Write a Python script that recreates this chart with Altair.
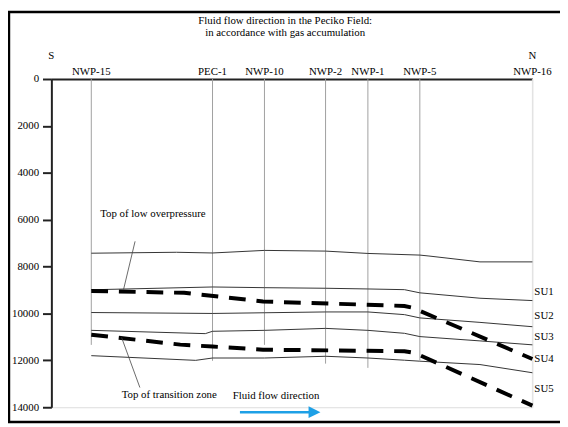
import altair as alt
import pandas as pd

# ---------------- data ----------------
wells = ["NWP-15", "PEC-1", "NWP-10", "NWP-2", "NWP-1", "NWP-5", "NWP-16"]
well_dist = [8.3, 33.5, 44.3, 57.0, 65.8, 76.6, 100.0]
well_bottom = [11340, 12020, 11340, 12140, 12320, 12000, 14000]

# solid horizons (distance, depth in ft)
h1_dist = [8.3, 26.0, 33.5, 44.3, 57.0, 65.8, 76.6, 78.5, 89.1, 100.0]
h1_depth = [7430, 7390, 7420, 7310, 7340, 7440, 7510, 7550, 7800, 7800]
h2_dist = [8.3, 33.5, 44.3, 57.0, 65.8, 73.4, 76.6, 89.1, 100.0]
h2_depth = [8990, 8870, 8900, 8925, 8955, 8985, 9120, 9350, 9450]
h3_dist = [8.3, 33.5, 44.3, 57.0, 65.8, 73.4, 76.6, 89.1, 100.0]
h3_depth = [9960, 10000, 9970, 9935, 9935, 10050, 10190, 10380, 10565]
h4_dist = [8.3, 32.0, 33.5, 44.3, 57.0, 65.8, 73.4, 76.6, 89.1, 100.0]
h4_depth = [10720, 10860, 10760, 10720, 10636, 10720, 10846, 10986, 11170, 11338]
h5_dist = [8.3, 30.0, 33.5, 44.3, 57.0, 65.8, 73.4, 76.6, 89.1, 100.0]
h5_depth = [11800, 12000, 11900, 11900, 11826, 11900, 11994, 12036, 12179, 12528]

# dashed boundaries
low_op_dist = [8.3, 27.6, 34.8, 44.0, 59.0, 73.4, 75.0, 100.0]
low_op_depth = [9040, 9120, 9280, 9490, 9585, 9680, 9750, 11940]
trans_dist = [8.3, 26.8, 33.5, 44.0, 73.4, 75.5, 100.0]
trans_depth = [10905, 11330, 11410, 11545, 11610, 11680, 13930]

su_labels = ["SU1", "SU2", "SU3", "SU4", "SU5"]
su_depth = [9093, 10103, 11002, 11927, 13230]

notes = ["Top of low overpressure", "Top of transition zone", "Fluid flow direction"]
note_dist = [21.1, 24.5, 46.7]
note_depth = [5760, 13466, 13508]

leader_dist = [17.4, 18.4]
leader_depth = [6924, 13159]
leader_dist2 = [15.0, 14.6]
leader_depth2 = [8983, 11027]

arrow_dist = [39.2]
arrow_dist2 = [54.0]
arrow_head_dist = [54.7]
arrow_depth = [14210]

ends = ["S", "N"]
end_dist = [0.0, 100.0]

y_ticks = [0, 2000, 4000, 6000, 8000, 10000, 12000, 14000]
title_lines = ["Fluid flow direction in the Peciko Field:", "in accordance with gas accumulation"]
title_dist = [48.6]

# ---------------- tables ----------------
wells_df = pd.DataFrame({"well": wells, "dist": well_dist, "top": [0] * len(wells), "bottom": well_bottom})

rows = []
for name, d, z in [("H1", h1_dist, h1_depth), ("H2", h2_dist, h2_depth), ("H3", h3_dist, h3_depth),
                   ("H4", h4_dist, h4_depth), ("H5", h5_dist, h5_depth)]:
    for i, (a, b) in enumerate(zip(d, z)):
        rows.append({"line": name, "i": i, "dist": a, "depth": b})
solid_df = pd.DataFrame(rows)

rows = []
for name, d, z in [("low", low_op_dist, low_op_depth), ("trans", trans_dist, trans_depth)]:
    for i, (a, b) in enumerate(zip(d, z)):
        rows.append({"line": name, "i": i, "dist": a, "depth": b})
dash_df = pd.DataFrame(rows)

su_df = pd.DataFrame({"label": su_labels, "dist": [100.0] * len(su_labels), "depth": su_depth})
notes_df = pd.DataFrame({"label": notes, "dist": note_dist, "depth": note_depth})
leader_df = pd.DataFrame({"dist": leader_dist, "depth": leader_depth, "dist2": leader_dist2, "depth2": leader_depth2})
arrow_df = pd.DataFrame({"dist": arrow_dist, "dist2": arrow_dist2, "head": arrow_head_dist, "depth": arrow_depth})
ends_df = pd.DataFrame({"label": ends, "dist": end_dist})
title_df = pd.DataFrame({"label": ["\n".join(title_lines)], "dist": title_dist})
one_df = pd.DataFrame({"a": [0]})

# ---------------- encodings ----------------
FONT = "Liberation Serif"
x_scale = alt.Scale(domain=[0, 100], nice=False, zero=False)
y_scale = alt.Scale(domain=[0, 14000], reverse=True, nice=False, zero=False)
x_axis = alt.Axis(orient="top", title=None, labels=False, ticks=False, grid=False,
                  domainColor="#222222", domainWidth=2)
y_axis = alt.Axis(title=None, values=y_ticks, format="d", grid=False, domainColor="#222222",
                  domainWidth=2, tickColor="#222222", tickWidth=2, tickSize=9,
                  labelFont=FONT, labelFontSize=11, labelColor="black", labelPadding=4)


def X(field):
    return alt.X(field, type="quantitative", scale=x_scale, axis=x_axis)


def Y(field):
    return alt.Y(field, type="quantitative", scale=y_scale, axis=y_axis)


well_lines = alt.Chart(wells_df).mark_rule(strokeWidth=1).encode(
    x=X("dist"), y=Y("top"), y2="bottom",
    color=alt.condition(alt.datum.well == "NWP-16", alt.value("#e2e2e2"), alt.value("#a0a0a0")),
)

well_labels = alt.Chart(wells_df).mark_text(font=FONT, fontSize=11, baseline="alphabetic",
                                            align="center", color="black").encode(
    x=X("dist"), y=alt.value(-4), text="well")

end_labels = alt.Chart(ends_df).mark_text(font=FONT, fontSize=11, baseline="middle",
                                          align="center", color="black").encode(
    x=X("dist"), y=alt.value(-23), text="label")

title_text = alt.Chart(title_df).mark_text(font=FONT, fontSize=11, baseline="middle",
                                           align="center", color="black", lineBreak="\n",
                                           lineHeight=12).encode(
    x=X("dist"), y=alt.value(-59), text="label")

solid = alt.Chart(solid_df).mark_line(color="#333333", strokeWidth=1).encode(
    x=X("dist"), y=Y("depth"), detail="line", order="i")

dashed = alt.Chart(dash_df).mark_line(color="black", strokeWidth=4, strokeDash=[17, 11]).encode(
    x=X("dist"), y=Y("depth"), detail="line", order="i")

su_text = alt.Chart(su_df).mark_text(font=FONT, fontSize=11, align="left", baseline="middle",
                                     dx=2, color="black").encode(
    x=X("dist"), y=Y("depth"), text="label")

note_text = alt.Chart(notes_df).mark_text(font=FONT, fontSize=11, align="center", baseline="middle",
                                          color="black").encode(
    x=X("dist"), y=Y("depth"), text="label")

leaders = alt.Chart(leader_df).mark_rule(color="#444444", strokeWidth=0.8).encode(
    x=X("dist"), y=Y("depth"), x2="dist2", y2="depth2")

arrow_line = alt.Chart(arrow_df).mark_rule(color="#1ea0e6", strokeWidth=2.5).encode(
    x=X("dist"), x2="dist2", y=Y("depth"))

arrow_head = alt.Chart(arrow_df).mark_point(shape="M-1,-1L1,0L-1,1Z", filled=True, size=144,
                                            color="#1ea0e6", opacity=1).encode(
    x=X("head"), y=Y("depth"))

frame = alt.Chart(one_df).mark_rect(fill="transparent", stroke="black", strokeWidth=2.5).encode(
    x=alt.value(-43), x2=alt.value(600), y=alt.value(-68), y2=alt.value(348))

chart = alt.layer(
    well_lines, solid, dashed, leaders, well_labels, end_labels, title_text, su_text, note_text,
    arrow_line, arrow_head, frame,
).properties(
    width=488, height=333,
    padding={"left": 44, "top": 69, "right": 28, "bottom": 17},
    autosize=alt.AutoSizeParams(type="none"),
).configure_view(strokeWidth=0).configure(background="white", font=FONT)

chart.save("out.html", embed_options={"renderer": "svg", "actions": False})
